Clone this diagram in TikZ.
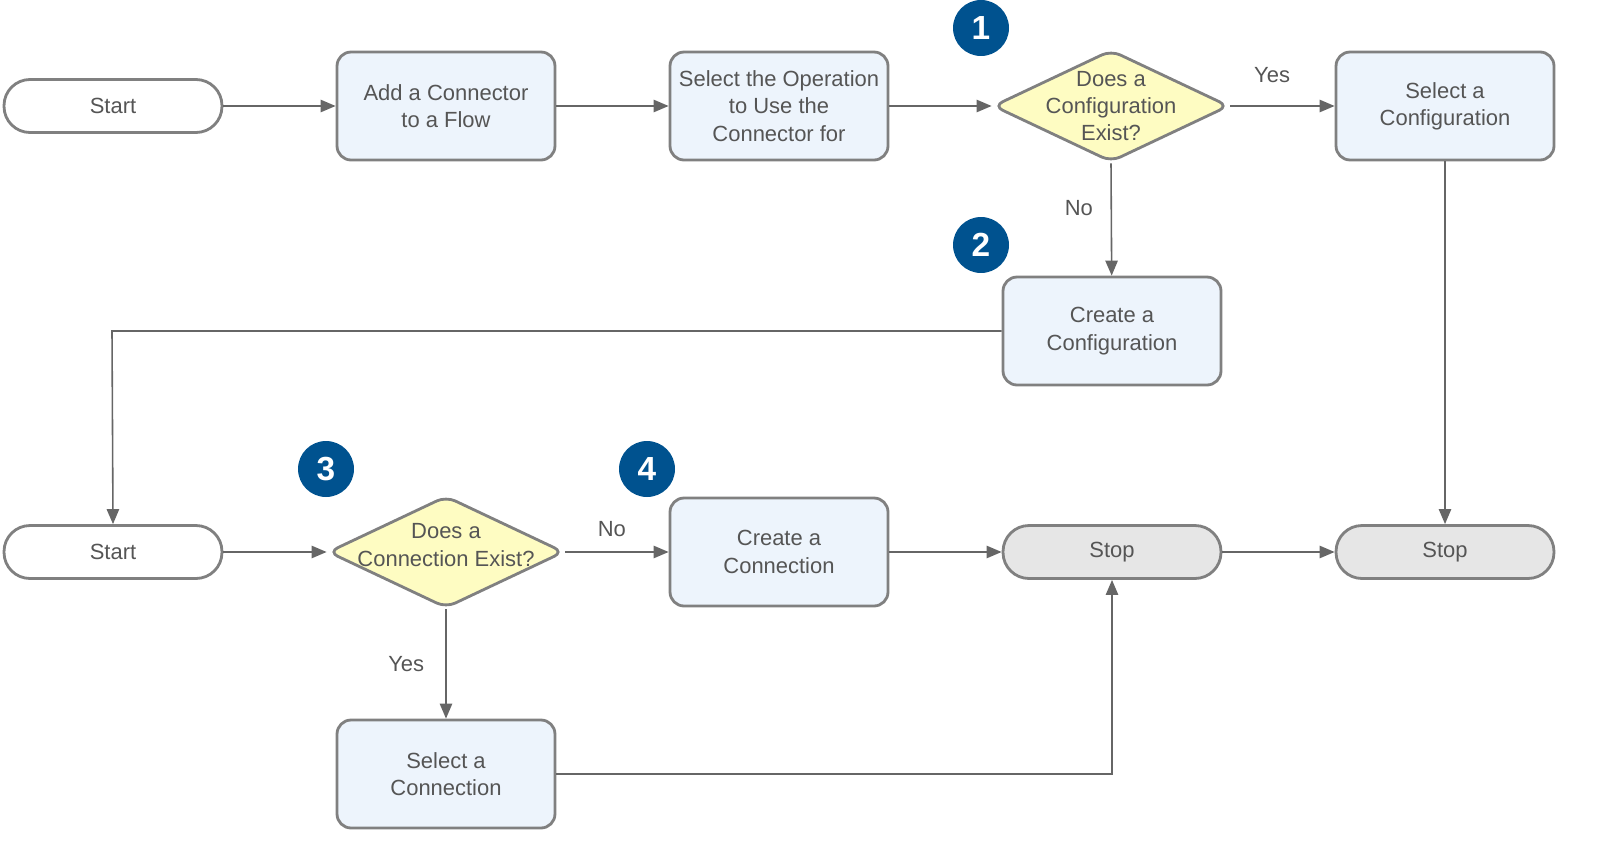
\documentclass[tikz,border=0pt]{standalone}
\usepackage{fontspec}
\setmainfont{Liberation Sans}
\usetikzlibrary{arrows.meta,shapes.geometric}
\definecolor{boxfill}{HTML}{EDF4FC}
\definecolor{decfill}{HTML}{FEFCC2}
\definecolor{stopfill}{HTML}{E6E6E6}
\definecolor{edge}{HTML}{808080}
\definecolor{wire}{HTML}{666666}
\definecolor{ink}{HTML}{555555}
\definecolor{badgeblue}{HTML}{00528F}
\begin{document}
\begin{tikzpicture}[x=0.02cm,y=-0.02cm,
  font=\fontsize{12.5}{15.5}\selectfont, text=ink,
  process/.style={draw=edge, line width=1.6pt, fill=boxfill, rounded corners=0.28cm,
    minimum width=4.36cm, minimum height=2.16cm, align=center, inner sep=0pt},
  terminal/.style={draw=edge, line width=1.6pt, fill=white, rounded corners=0.52cm,
    minimum width=4.36cm, minimum height=1.06cm, inner sep=0pt},
  stopbox/.style={terminal, fill=stopfill},
  decision/.style={diamond, draw=edge, line width=1.6pt, fill=decfill, rounded corners=0.2cm,
    minimum width=4.72cm, minimum height=2.24cm, inner sep=0pt},
  dectext/.style={align=center, inner sep=0pt},
  badge/.style={circle, fill=badgeblue, minimum size=1.12cm, inner sep=0pt,
    text=white, font=\fontsize{19}{19}\selectfont\bfseries},
  link/.style={draw=wire, line width=0.9pt, -{Triangle[length=8.5pt,width=7pt]}},
  tag/.style={inner sep=0pt}]
\useasboundingbox (0,0) rectangle (1602,852);
% top row
\node[terminal] (start1) at (113,106) {Start};
\node[process] (addconn) at (446,106) {Add a Connector\\to a Flow};
\node[process] (selop) at (779,106) {Select the Operation\\to Use the\\Connector for};
\node[decision] (confq) at (1111,106) {};
\node[dectext] (confqt) at (1111,106) {Does a\\Configuration\\Exist?};
\node[process] (selconf) at (1445,106) {Select a\\Configuration};
\node[process] (mkconf) at (1112,331) {Create a\\Configuration};
% bottom rows
\node[terminal] (start2) at (113,552) {Start};
\node[decision] (connq) at (446,552) {};
\node[dectext] (connqt) at (446,545) {Does a\\Connection Exist?};
\node[process] (mkconn) at (779,552) {Create a\\Connection};
\node[stopbox] (stop1) at (1112,552) {Stop};
\node[stopbox] (stop2) at (1445,552) {Stop};
\node[process] (selconn) at (446,774) {Select a\\Connection};
% numbers
\node[badge] (b1) at (981,28) {1};
\node[badge] (b2) at (981,245) {2};
\node[badge] (b3) at (326,469) {3};
\node[badge] (b4) at (647,469) {4};
% connectors
\draw[link] (start1) -- (addconn);
\draw[link] (addconn) -- (selop);
\draw[link] (selop) -- (confq.west);
\draw[link] (confq.east) -- (selconf) node[tag, pos=0.4, above=13pt] {Yes};
\draw[link] (confq.south) -- (mkconf) node[tag, pos=0.4, left=10pt] {No};
\draw[link] (mkconf.west) -- (112,331) -- (start2.north);
\draw[link] (selconf) -- (stop2);
\draw[link] (start2) -- (connq.west);
\draw[link] (connq.east) -- (mkconn) node[tag, pos=0.45, above=8pt] {No};
\draw[link] (connq.south) -- (selconn) node[tag, midway, left=12pt] {Yes};
\draw[link] (mkconn) -- (stop1);
\draw[link] (stop1) -- (stop2);
\draw[link] (selconn.east) -- (1112,774) -- (stop1.south);
\end{tikzpicture}
\end{document}
